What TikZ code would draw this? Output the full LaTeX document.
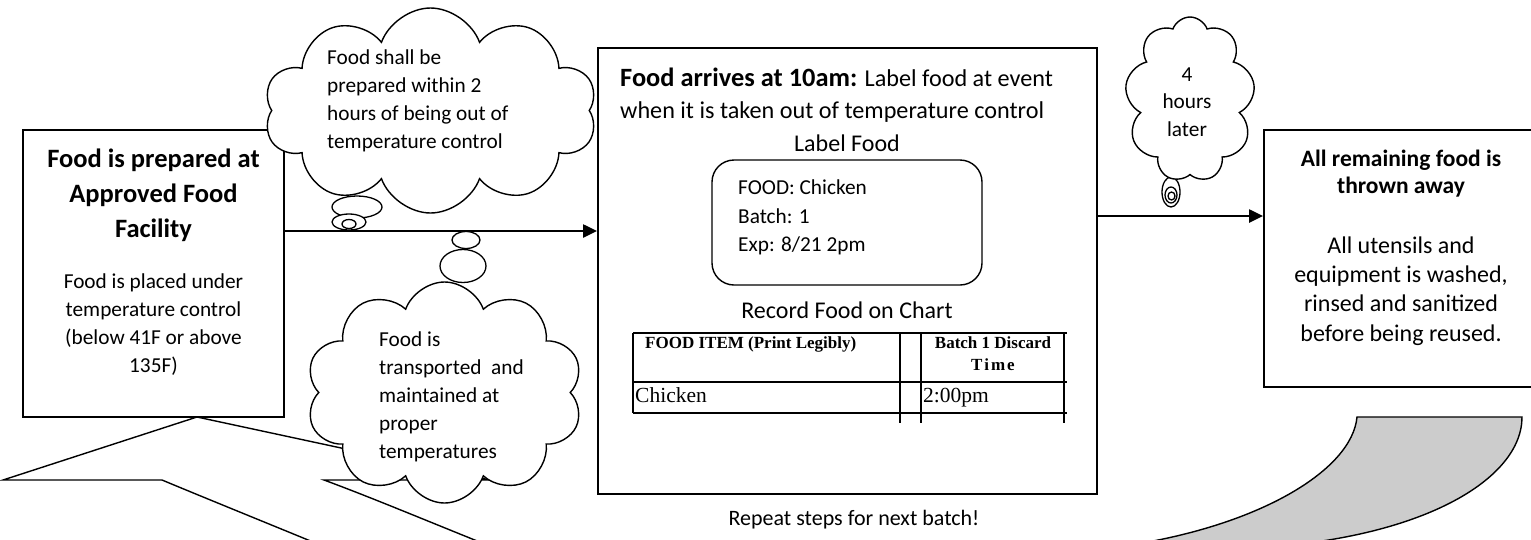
\documentclass[tikz,border=0pt]{standalone}
\usepackage{fontspec}
\setmainfont{Carlito}
\newfontfamily\timesf{Liberation Serif}
\usetikzlibrary{arrows.meta,shapes.symbols,shapes.geometric}
\begin{document}
\begin{tikzpicture}[x=1pt,y=-1pt,
  box/.style={draw, line width=1.8pt, fill=white, inner sep=0pt},
  arr/.style={line width=2.2pt, -{Triangle[length=14pt,width=13pt]}},
  cloudshape/.style={cloud, draw, fill=white, line width=1.4pt, cloud puff arc=140, inner sep=0pt},
  bubble/.style={ellipse, draw, fill=white, line width=1.3pt, inner sep=0pt},
  bigarrow/.style={draw, line width=1.4pt, line join=miter},
  body/.style={font=\fontsize{21.3}{28}\selectfont, inner sep=0pt},
  ltitle/.style={font=\bfseries\fontsize{26.5}{35}\selectfont, inner sep=0pt},
  tab/.style={line width=1.1pt},
  tabhead/.style={font=\timesf\bfseries\fontsize{17}{22}\selectfont, inner sep=0pt},
  tabcell/.style={font=\timesf\fontsize{21.5}{24}\selectfont, inner sep=0pt}
]
\useasboundingbox (0,0) rectangle (1531,539);
\clip (0,0) rectangle (1531,539);

% big curved arrow (front part, white)
\draw[bigarrow, fill=white] (197,417) -- (3,480) -- (162,480)
  .. controls (210,500) and (262,521) .. (330,549) -- (497,549)
  .. controls (420,518) and (370,497) .. (324,480) -- (490,480) -- cycle;
% big curved arrow (back part, grey)
\draw[bigarrow, fill=black!20] (1357,417) -- (1522,417)
  .. controls (1522,480) and (1420,540) .. (1250,548) -- (1130,545)
  .. controls (1260,525) and (1352,470) .. (1357,417) -- cycle;

% boxes
\node[box, minimum width=261, minimum height=287] (lbox) at (153.5,273.5) {};
\node[box, minimum width=499, minimum height=446] (cbox) at (847.5,271) {};
\node[box, minimum width=270, minimum height=257] (rbox) at (1399,258.5) {};

% connectors
\coordinate (a1) at (0,231);
\coordinate (a2) at (0,216);
\draw[arr] (lbox.east |- a1) -- (cbox.west |- a1);
\draw[arr] (cbox.east |- a2) -- (rbox.west |- a2);

% left box text
\node[ltitle, align=center] (lt) at (153.5,195) {Food is prepared at\\Approved Food\\Facility};
\node[body, align=center] (lb) at (153.5,324.5) {Food is placed under\\temperature control\\(below 41F or above\\135F)};

% cloud 1
\node[bubble, minimum width=50, minimum height=22] (c1b1) at (357,207) {};
\node[cloudshape, cloud puffs=10, minimum width=333, minimum height=205] (c1) at (430.5,110.5) {};
\node[bubble, minimum width=34, minimum height=16] (c1b2) at (349,222) {};
\node[bubble, minimum width=14, minimum height=9] (c1b3) at (349,224) {};
\node[body, align=left, anchor=west] (c1t) at (327,101) {Food shall be\\prepared within 2\\hours of being out of\\temperature control};

% cloud 2
\node[cloudshape, cloud puffs=10, minimum width=277, minimum height=221] (c2) at (444.5,392.5) {};
\node[bubble, minimum width=46, minimum height=33] (c2b1) at (463,266) {};
\node[bubble, minimum width=28, minimum height=17] (c2b2) at (466,240) {};
\node[body, align=left, anchor=west] (c2t) at (379,396.5) {Food is\\transported\ \ and\\maintained at\\proper\\temperatures};

% cloud 3
\node[bubble, minimum width=18, minimum height=30] (c3b1) at (1171,192) {};
\node[cloudshape, cloud puffs=9, minimum width=130, minimum height=165] (c3) at (1190,99.5) {};
\node[bubble, minimum width=12, minimum height=16] (c3b2) at (1171,195) {};
\node[bubble, minimum width=7, minimum height=8] (c3b3) at (1171.5,196) {};
\node[font=\fontsize{21.3}{27.5}\selectfont, inner sep=0pt, align=center] (c3t) at (1187,102) {4\\hours\\later};

% centre box content
\node[font=\fontsize{24.2}{32}\selectfont, inner sep=0pt, anchor=base west] (ct1) at (620,86) {{\fontsize{26.4}{32}\selectfont\bfseries Food arrives at 10am:} Label food at event};
\node[font=\fontsize{24.2}{32}\selectfont, inner sep=0pt, anchor=base west] (ct2) at (620,118) {when it is taken out of temperature control};
\node[font=\fontsize{24}{28}\selectfont, inner sep=0pt, anchor=base] (lf) at (847,151) {Label Food};
\node[draw, line width=1.4pt, rounded corners=22pt, minimum width=270, minimum height=125, inner sep=0pt] (lab) at (847,222.5) {};
\node[font=\fontsize{21.3}{28.5}\selectfont, inner sep=0pt, align=left, anchor=west] (labt) at (738,217.5) {FOOD: Chicken\\Batch: 1\\Exp: 8/21 2pm};
\node[font=\fontsize{24}{28}\selectfont, inner sep=0pt, anchor=base] (rec) at (847,318) {Record Food on Chart};

% chart
\draw[tab] (633,333) -- (1067,333);
\draw[tab] (633,382) -- (1067,382);
\draw[tab] (633,413) -- (1067,413);
\draw[tab] (633,333) -- (633,413);
\draw[tab] (900,333) -- (900,423);
\draw[tab] (921,333) -- (921,423);
\draw[tab] (1064,333) -- (1064,423);
\node[tabhead, anchor=base west] (th1) at (645,348) {FOOD ITEM (Print Legibly)};
\node[tabhead, anchor=base] (th2) at (993,348) {Batch 1 Discard};
\node[tabhead, anchor=base] (th3) at (993,370) {\addfontfeature{LetterSpace=12}Time};
\node[tabcell, anchor=base west] (tc1) at (635,402) {Chicken};
\node[tabcell, anchor=base west] (tc2) at (923,402) {2:00pm};

\node[font=\fontsize{22}{28}\selectfont, inner sep=0pt, anchor=base] (rep) at (854,525) {Repeat steps for next batch!};

% right box text
\node[font=\bfseries\fontsize{23.5}{27}\selectfont, inner sep=0pt, align=center] (rt) at (1401,173.5) {All remaining food is\\thrown away};
\node[font=\fontsize{24}{29.3}\selectfont, inner sep=0pt, align=center] (rb) at (1401,291) {All utensils and\\equipment is washed,\\rinsed and sanitized\\before being reused.};
\end{tikzpicture}
\end{document}
